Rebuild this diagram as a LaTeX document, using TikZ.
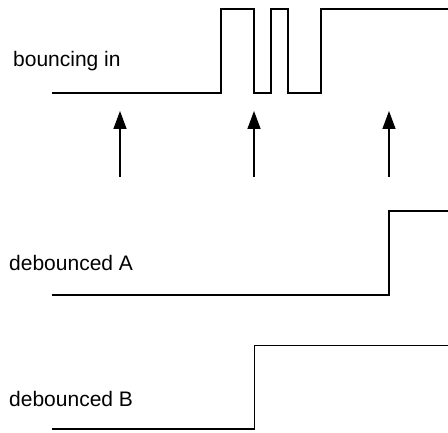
\documentclass[tikz,border=0pt]{standalone}
\usepackage{fontspec}
\setmainfont{Liberation Sans}
\usetikzlibrary{arrows.meta}
\begin{document}
\begin{tikzpicture}[x=1pt,y=1pt,
  wave/.style={line width=1.6pt,line join=miter},
  trig/.style={line width=1.5pt,-{Triangle[length=18pt,width=13pt]}},
  lbl/.style={anchor=base west,inner sep=0pt,font=\fontsize{21}{24}\selectfont}]
\useasboundingbox (0,0) rectangle (448,432);
% labels
\node[lbl] (lin) at (13,365.3) {bouncing in};
\node[lbl] (la) at (9,161.3) {debounced A};
\node[lbl] (lb) at (9,26) {debounced B};
% bouncing input
\draw[wave] (52,339) -- (221,339) -- (221,422.7) -- (254,422.7) -- (254,339) -- (271,339) -- (271,422.7) -- (288,422.7) -- (288,339) -- (321,339) -- (321,422.7) -- (449,422.7);
% sampling arrows
\coordinate (t1) at (120,255); \coordinate (h1) at (120,321);
\coordinate (t2) at (254,255); \coordinate (h2) at (254,321);
\coordinate (t3) at (389,255); \coordinate (h3) at (389,321);
\draw[trig] (t1) -- (h1);
\draw[trig] (t2) -- (h2);
\draw[trig] (t3) -- (h3);
% debounced A
\draw[wave] (52,137) -- (388.7,137) -- (388.7,221) -- (449,221);
% debounced B
\draw[wave] (52,3) -- (254.3,3) -- (254.3,86.3) -- (449,86.3);
\end{tikzpicture}
\end{document}
